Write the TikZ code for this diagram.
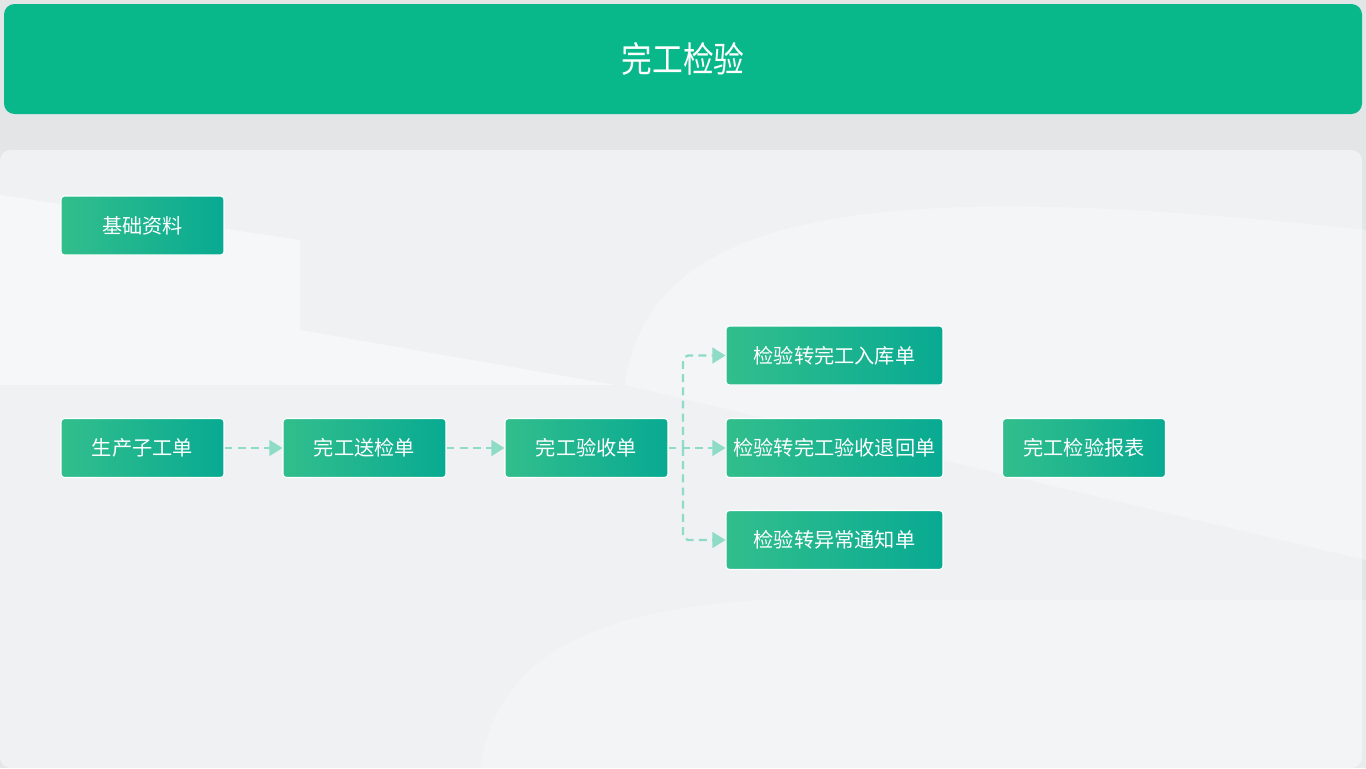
\documentclass[tikz,border=0pt]{standalone}
\usepackage{fontspec}
\newfontfamily\cjk{Noto Sans CJK SC}
\usetikzlibrary{arrows.meta}
\definecolor{barteal}{RGB}{8,184,138}
\definecolor{boxleft}{RGB}{50,190,140}
\definecolor{boxright}{RGB}{8,170,146}
\definecolor{linkgreen}{RGB}{142,220,198}
\definecolor{pagegray}{RGB}{228,229,231}
\definecolor{panelgray}{RGB}{240,241,243}

\begin{document}
\begin{tikzpicture}[x=0.02cm, y=-0.02cm,
  stepbox/.style={rounded corners=2pt, left color=boxleft, right color=boxright,
    draw=white, line width=0.6pt, text=white, inner sep=0pt,
    minimum width=3.26cm, minimum height=1.18cm,
    font=\cjk\fontsize{11.5}{12}\selectfont},
  widebox/.style={stepbox, minimum width=4.34cm},
  link/.style={draw=linkgreen, line width=1.3pt, dash pattern=on 4.5pt off 3pt,
    -{Triangle[length=7.5pt,width=9pt]}}]
% background
\fill[pagegray] (0,0) rectangle (1366,768);
\fill[panelgray, rounded corners=6pt] (0,150) rectangle (1362,768);
\fill[white, opacity=0.45] (0,195) -- (300,240) -- (300,330) -- (615,385) -- (0,385) -- cycle;
\fill[white, opacity=0.3] (625,385) .. controls (650,200) and (900,180) .. (1366,230) -- (1366,560) -- cycle;
\fill[white, opacity=0.25] (480,768) .. controls (500,640) and (620,610) .. (760,600) -- (1366,600) -- (1366,768) -- cycle;
% title bar
\fill[barteal, rounded corners=6pt] (4,4) rectangle (1362,114);
\node[text=white, font=\cjk\fontsize{17.5}{18}\selectfont] (title) at (683,59) {\scalebox{1}[1.15]{完工检验}};

% nodes
\node[stepbox] (jichu) at (142.5,225.5) {基础资料};
\node[stepbox] (zigongdan) at (142.5,448) {生产子工单};
\node[stepbox] (songjian) at (364.5,448) {完工送检单};
\node[stepbox] (yanshou) at (586.5,448) {完工验收单};
\node[widebox] (ruku) at (834.5,355.5) {检验转完工入库单};
\node[widebox] (tuihui) at (834.5,448) {检验转完工验收退回单};
\node[widebox] (yichang) at (834.5,540) {检验转异常通知单};
\node[stepbox] (baobiao) at (1084,448) {完工检验报表};
\coordinate (fork) at (683,448);

% links
\draw[link] (zigongdan) -- (songjian);
\draw[link] (songjian) -- (yanshou);
\draw[link] (yanshou) -- (tuihui);
\draw[link, rounded corners=3pt] (fork) |- (ruku.west);
\draw[link, rounded corners=3pt] (fork) |- (yichang.west);
\end{tikzpicture}
\end{document}
